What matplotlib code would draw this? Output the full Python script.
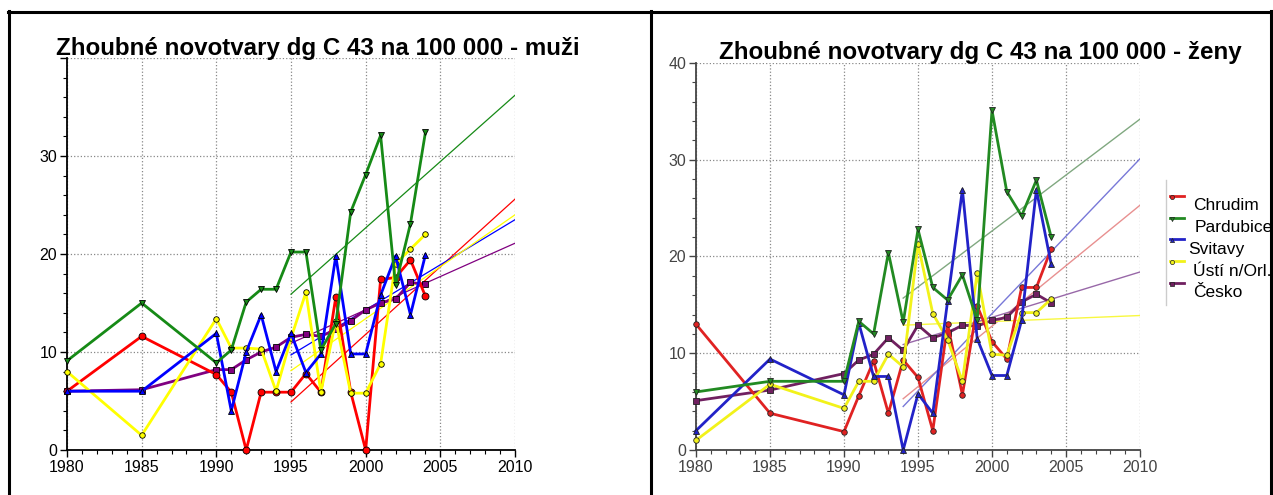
import numpy as np
import matplotlib
matplotlib.use("Agg")
import matplotlib.pyplot as plt
from matplotlib.lines import Line2D
from matplotlib.ticker import MultipleLocator

plt.rcParams['font.family'] = ['Liberation Sans', 'DejaVu Sans']

# roky
years = [1980, 1985, 1990, 1991, 1992, 1993, 1994, 1995, 1996, 1997,
         1998, 1999, 2000, 2001, 2002, 2003, 2004]
names = ['Chrudim', 'Pardubice', 'Svitavy', 'Ústí n/Orl.', 'Česko']

# muzi
chrudim_m = [6.0, 11.6, 7.7, 5.9, 0.0, 5.9, 5.9, 5.9, 7.8, 5.9, 15.6, 5.9, 0.0, 17.4, 17.6, 19.4, 15.7]
pardubice_m = [9.1, 15.0, 8.9, 10.2, 15.1, 16.4, 16.4, 20.2, 20.2, 10.2, 12.9, 24.3, 28.1, 32.1, 16.8, 23.1, 32.4]
svitavy_m = [6.0, 6.0, 11.9, 4.0, 10.0, 13.8, 8.0, 11.9, 7.9, 9.8, 19.8, 9.8, 9.8, 15.8, 19.8, 13.8, 19.9]
usti_m = [8.0, 1.5, 13.4, 10.4, 10.4, 10.3, 6.0, 11.4, 16.1, 5.9, 13.2, 5.8, 5.8, 8.8, 19.0, 20.5, 22.0]
cesko_m = [6.0, 6.15, 8.2, 8.2, 9.2, 10.0, 10.5, 11.5, 11.8, 11.6, 12.3, 13.2, 14.3, 15.0, 15.4, 17.1, 16.9]

# zeny
chrudim_z = [13.0, 3.8, 1.9, 5.6, 9.2, 3.8, 9.3, 7.5, 2.0, 13.0, 5.7, 14.9, 11.2, 9.4, 16.8, 16.8, 20.8]
pardubice_z = [6.0, 7.1, 7.1, 13.3, 12.0, 20.4, 13.2, 22.8, 16.8, 15.5, 18.1, 13.4, 35.1, 26.7, 24.2, 27.9, 22.0]
svitavy_z = [2.0, 9.4, 5.7, 13.1, 7.6, 7.6, 0.0, 5.8, 3.8, 15.4, 26.9, 11.5, 7.7, 7.7, 13.4, 26.9, 19.2]
usti_z = [1.0, 6.8, 4.3, 7.1, 7.1, 9.9, 8.6, 21.3, 14.1, 11.4, 7.1, 18.3, 9.9, 9.8, 14.2, 14.2, 15.6]
cesko_z = [5.1, 6.2, 7.9, 9.3, 9.9, 11.6, 10.3, 12.9, 11.6, 12.1, 12.9, 12.8, 13.4, 13.7, 15.3, 16.1, 15.2]

# trendy (zacatek, konec) - poradi jako names
trend_m_years = [1995, 2010]
trend_m_start = [4.9, 15.9, 9.7, 8.1, 10.9]
trend_m_end = [25.6, 36.2, 23.5, 24.0, 21.1]
trend_z_years = [1994, 2010]
trend_z_start = [5.3, 15.7, 4.5, 12.9, 10.9]
trend_z_end = [25.3, 34.2, 30.1, 13.9, 18.4]

markers = ['o', 'v', '^', 'o', 's']
msizes = [5, 5, 5, 4, 5]
col_m = ['#ff0000', '#168a16', '#0000ff', '#ffff00', '#800080']
col_z = ['#e02222', '#228a22', '#2222c8', '#f2f21a', '#702060']
col_zt = ['#e89090', '#80a880', '#7878d8', '#f8f840', '#9868a8']

fig = plt.figure(figsize=(12.73, 4.95), dpi=100)

# ramecek tabulky
for xs, ys in [([8/1273, 1], [1 - 11.5/495] * 2),
               ([9/1273] * 2, [0, 1 - 11/495]),
               ([651/1273] * 2, [0, 1 - 11/495]),
               ([1271/1273] * 2, [0, 1 - 11/495])]:
    fig.add_artist(Line2D(xs, ys, color='black', lw=2.2, transform=fig.transFigure))


def style_axes(ax, labcol, show40):
    ax.set_xlim(1980, 2010)
    ax.set_ylim(0, 40)
    ax.xaxis.set_major_locator(MultipleLocator(5))
    ax.xaxis.set_minor_locator(MultipleLocator(1))
    ax.yaxis.set_major_locator(MultipleLocator(10))
    ax.yaxis.set_minor_locator(MultipleLocator(2))
    ax.grid(True, which='major', color='#888888', ls=':', lw=0.9)
    for s in ['top', 'right']:
        ax.spines[s].set_visible(False)
    for s in ['left', 'bottom']:
        ax.spines[s].set_color(labcol)
        ax.spines[s].set_linewidth(1.3)
    ax.tick_params(which='major', length=5, width=1, colors=labcol, labelsize=11.5, pad=2)
    ax.tick_params(which='minor', length=3, width=0.8, colors=labcol)
    if not show40:
        ax.set_yticks([0, 10, 20, 30, 40], ['0', '10', '20', '30', ''])


# levy graf - muzi
ax1 = fig.add_axes([67/1273, 45/495, 448/1273, 392/495])
style_axes(ax1, 'black', False)
data_m = [chrudim_m, pardubice_m, svitavy_m, usti_m, cesko_m]
for i in range(5):
    ax1.plot(trend_m_years, [trend_m_start[i], trend_m_end[i]], color=col_m[i], lw=0.9, zorder=2)
for i in [4, 0, 3, 2, 1]:
    ax1.plot(years, data_m[i], color=col_m[i], lw=2.0, marker=markers[i], ms=msizes[i],
             mfc=col_m[i], mec='black', mew=0.6, zorder=3, clip_on=False)
fig.text(318/1273, 1 - 48/495, 'Zhoubné novotvary dg C 43 na 100 000 - muži',
         ha='center', va='center', fontsize=17.4, fontweight='bold')

# pravy graf - zeny
ax2 = fig.add_axes([696/1273, 45/495, 444/1273, 387/495])
style_axes(ax2, '#444444', True)
data_z = [chrudim_z, pardubice_z, svitavy_z, usti_z, cesko_z]
for i in range(5):
    ax2.plot(trend_z_years, [trend_z_start[i], trend_z_end[i]], color=col_zt[i], lw=1.0, zorder=2)
for i in [4, 0, 3, 2, 1]:
    ax2.plot(years, data_z[i], color=col_z[i], lw=2.0, marker=markers[i], ms=4,
             mfc=col_z[i], mec='#222222', mew=0.6, zorder=3, clip_on=False)
fig.text(980/1273, 1 - 53/495, 'Zhoubné novotvary dg C 43 na 100 000 - ženy',
         ha='center', va='center', fontsize=17.4, fontweight='bold')

# legenda
fig.add_artist(Line2D([1166/1273] * 2, [1 - 180/495, 1 - 305/495], color='#cccccc', lw=1,
                      transform=fig.transFigure))
text_x = [1193, 1195, 1188, 1193, 1193]
for i in range(5):
    yh = 196 + i * 21.7
    fig.add_artist(Line2D([1170/1273, 1184/1273], [1 - yh/495] * 2, color=col_z[i], lw=2,
                          transform=fig.transFigure))
    fig.add_artist(Line2D([1172/1273], [1 - (yh + 1)/495], color=col_z[i], marker=markers[i],
                          ms=3, mec='#222222', mew=0.5, transform=fig.transFigure))
    fig.text(text_x[i]/1273, 1 - (yh + 10)/495, names[i], ha='left', va='center', fontsize=12.5)

fig.savefig('out.png', dpi=100)
